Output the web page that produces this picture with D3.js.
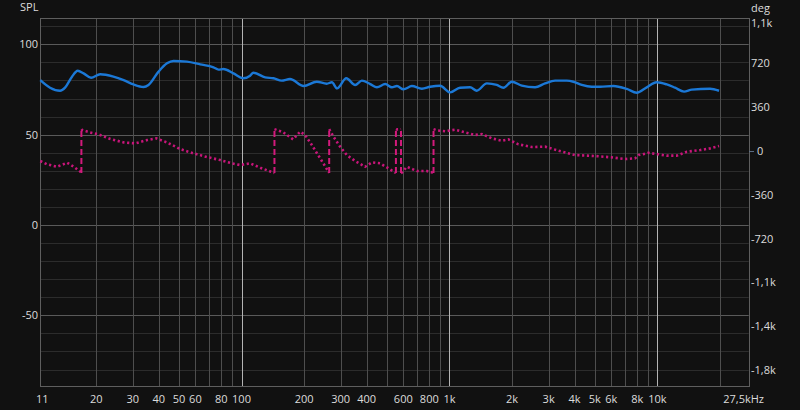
<!DOCTYPE html>
<html><head><meta charset="utf-8">
<script src="https://cdn.jsdelivr.net/npm/d3@7"></script>
<style>
html,body{margin:0;padding:0;background:#111111;}
svg{display:block;}
text{font-family:"Open Sans","Noto Sans",sans-serif;font-size:11px;fill:#dcdcdc;}
</style></head>
<body>
<svg id="c" width="800" height="410"></svg>
<script>
// ---- data ----
const splFreq = [10.77,12,13.4,14.2,15.3,16.3,17.4,18.9,20.9,24.2,27.1,30.2,33.8,35.7,39.9,43.8,47.1,54.6,63.3,73.3,77.5,81.9,91.5,102,110,114,130,142.5,156,171,199,230,257,272,288,319,352,379,416,448,491,529,559,601,660,737,808,902,1008,1125,1257,1354,1513,1690,1818,1995,2229,2582,2885,3223,3667,3948,4330,4837,5302,6145,7128,7962,8892,9934,11100,12165,13440,14640,17930,19800];
const splDb = [80.2,76.0,74.3,76.2,82.1,85.4,83.9,81.5,83.4,82.1,80.2,77.8,76.4,77.5,84.9,89.5,90.8,90.4,88.9,87.3,86.0,86.3,83.9,81.2,82.6,84.3,81.7,81.2,79.9,80.8,76.9,79.3,78.2,79.0,75.6,81.2,77.5,79.9,78.0,76.2,78.0,76.2,76.9,75.1,76.9,75.4,76.5,77.1,73.4,76.0,76.2,74.3,78.4,77.5,76.0,79.3,77.1,76.2,78.4,79.9,79.9,79.3,77.5,76.5,76.5,76.9,75.3,73.2,76.2,79.0,77.8,76.0,73.8,74.9,75.4,74.3];
const phaseFreq = [10.77,11.6,12.95,14.5,15.6,16.8,17.1,18.7,20.5,23.4,27.1,30.8,35.1,38.9,43.8,50.7,58.8,68.2,79.0,89.9,98.6,110,123,138.5,148,159,177,191.5,202,218,239,262,277,298,321,352,393,424,464,509,545,556,580,590,624,697,778,814,870,953,1065,1190,1329,1432,1599,1786,1921,2146,2490,2885,3342,4021,5017,6036,6993,7812,8105,8892,9054,10110,11100,12400,13850,16050,17930,19800];
const phaseDeg = [-82,-109,-129,-96,-129,-170,173,153,137,99,71,63,90,104,71,16,-19,-49,-74,-101,-115,-101,-137,-170,173,153,96,159,132,49,-60,-170,118,36,-33,-82,-129,-93,-101,-142,-175,178,178,-178,-129,-164,-164,-172,170,163,175,153,132,140,104,85,96,55,33,36,3,-33,-41,-52,-66,-60,-33,-19,-14,-27,-38,-38,-6,8,22,41];
const xGridFreqs = [20,30,40,50,60,70,80,90,100,200,300,400,500,600,700,800,900,1000,2000,3000,4000,5000,6000,7000,8000,9000,10000,20000];
const xTickFreqs = [11,20,30,40,50,60,80,100,200,300,400,600,800,1000,2000,3000,4000,5000,6000,8000,10000];
const xTickLabels = ["11","20","30","40","50","60","80","100","200","300","400","600","800","1k","2k","3k","4k","5k","6k","8k","10k"];
const dbGrid = [-80,-70,-60,-50,-40,-30,-20,-10,0,10,20,30,40,50,60,70,80,90,100,110];
const dbTicks = [100,50,0,-50];
const degTicks = [1080,720,360,0,-360,-720,-1080,-1440,-1800];
const degLabels = ["1,1k","720","360","0","-360","-720","-1,1k","-1,4k","-1,8k"];

// ---- scales ----
const L=40.3,R=748.7,T=18.3,B=386;
const x = d3.scaleLog().domain([10.77,27500]).range([L,R]);
const y = d3.scaleLinear().domain([-89.1,114.4]).range([B,T]);
const yDeg = d3.scaleLinear().domain([-1931,1091]).range([B,T]);

const svg = d3.select("#c");
svg.append("rect").attr("width",800).attr("height",410).attr("fill","#111111");

const g = svg.append("g");
// horizontal grid
g.selectAll("line.h").data(dbGrid).enter().append("line")
  .attr("x1",L).attr("x2",R)
  .attr("y1",d=>Math.round(y(d))+0.5).attr("y2",d=>Math.round(y(d))+0.5)
  .attr("stroke",d=>d%50===0?"#5a5a5a":"#2c2c2c").attr("stroke-width",1);
// vertical grid
g.selectAll("line.v").data(xGridFreqs).enter().append("line")
  .attr("x1",d=>Math.round(x(d))+0.5).attr("x2",d=>Math.round(x(d))+0.5)
  .attr("y1",T).attr("y2",B)
  .attr("stroke",d=>[100,1000,10000].includes(d)?"#b4b4b4":"#4e4e4e").attr("stroke-width",1);
// frame
g.append("rect").attr("x",Math.round(L)+0.5).attr("y",Math.round(T)+0.5)
  .attr("width",Math.round(R)-Math.round(L)).attr("height",Math.round(B)-Math.round(T))
  .attr("fill","none").attr("stroke","#5e5e5e");

// SPL line
const splData = splFreq.map((f,i)=>[f,splDb[i]]);
svg.append("path").datum(splData)
  .attr("d",d3.line().x(d=>x(d[0])).y(d=>y(d[1])).curve(d3.curveMonotoneX))
  .attr("fill","none").attr("stroke","#1b78d6").attr("stroke-width",2.4)
  .attr("stroke-linejoin","round");

// phase with wrap handling
const segs=[]; const wraps=[];
let cur=[[phaseFreq[0],phaseDeg[0]]];
for(let i=1;i<phaseFreq.length;i++){
  const p0=phaseDeg[i-1], p1=phaseDeg[i];
  let d=p1-p0;
  if(d>180||d<-180){
    const real = d>180? d-360 : d+360;
    const edge = d>180? -180 : 180;
    const t=(edge-p0)/real;
    const lf=Math.log10(phaseFreq[i-1])+t*(Math.log10(phaseFreq[i])-Math.log10(phaseFreq[i-1]));
    const fc=Math.pow(10,lf);
    cur.push([fc,edge]); segs.push(cur);
    wraps.push(fc);
    cur=[[fc,-edge]];
  }
  cur.push([phaseFreq[i],p1]);
}
segs.push(cur);
const phaseLine=d3.line().x(d=>x(d[0])).y(d=>yDeg(d[1]));
svg.selectAll("path.ph").data(segs).enter().append("path")
  .attr("d",phaseLine).attr("fill","none").attr("stroke","#c8157a")
  .attr("stroke-width",2.6).attr("stroke-dasharray","2.2,2.6");
svg.selectAll("line.wr").data(wraps).enter().append("line")
  .attr("x1",d=>x(d)).attr("x2",d=>x(d))
  .attr("y1",yDeg(-180)).attr("y2",yDeg(180))
  .attr("stroke","#d21a7c").attr("stroke-width",2).attr("stroke-dasharray","6,3");

// left axis labels
svg.append("text").attr("x",20).attr("y",11).text("SPL");
svg.selectAll("text.yl").data(dbTicks).enter().append("text")
  .attr("x",38).attr("y",d=>y(d)+4).attr("text-anchor","end").text(d=>d);
// right axis labels
svg.append("text").attr("x",751).attr("y",12).text("deg");
svg.selectAll("text.dl").data(degTicks).enter().append("text")
  .attr("x",d=>d===0?757:751).attr("y",d=>Math.max(yDeg(d),22.5)+4).text((d,i)=>degLabels[i]);
svg.append("line").attr("x1",749).attr("x2",754).attr("y1",yDeg(0)+0.5).attr("y2",yDeg(0)+0.5)
  .attr("stroke","#5c6f88").attr("stroke-width",1);
// x labels
svg.selectAll("text.xl").data(xTickFreqs).enter().append("text")
  .attr("x",d=>x(d)).attr("y",403).attr("text-anchor","middle").text((d,i)=>xTickLabels[i]);
svg.append("text").attr("x",764).attr("y",403).attr("text-anchor","end").text("27,5kHz");
</script>
</body></html>
